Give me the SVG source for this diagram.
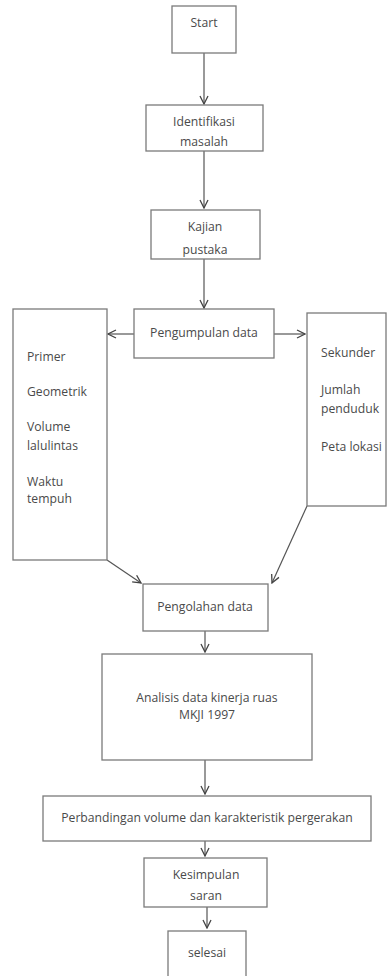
<svg xmlns="http://www.w3.org/2000/svg" width="389" height="976" viewBox="0 0 389 976">
<style>
.b{fill:#fff;stroke:#7a7a7a;stroke-width:1.3}
.t{font-family:"Open Sans","Liberation Sans",sans-serif;font-size:12.2px;fill:#4a4a4a}
.m{text-anchor:middle}
.c{stroke:#555;stroke-width:1.2;fill:none}
</style>
<defs>
<marker id="a" viewBox="0 0 10 10" refX="9" refY="5" markerWidth="10" markerHeight="10" markerUnits="userSpaceOnUse" orient="auto">
<path d="M1,1 L9,5 L1,9" fill="none" stroke="#444" stroke-width="1.3"/>
</marker>
</defs>
<rect width="389" height="976" fill="#fff"/>
<g id="connectors">
<line class="c" x1="204" y1="53" x2="204" y2="104" marker-end="url(#a)"/>
<line class="c" x1="204" y1="151" x2="204" y2="208" marker-end="url(#a)"/>
<line class="c" x1="204" y1="259" x2="204" y2="308" marker-end="url(#a)"/>
<line class="c" x1="134" y1="334" x2="108" y2="334" marker-end="url(#a)"/>
<line class="c" x1="274" y1="334" x2="305" y2="334" marker-end="url(#a)"/>
<line class="c" x1="107" y1="560" x2="141" y2="583" marker-end="url(#a)"/>
<line class="c" x1="307" y1="506" x2="272" y2="583" marker-end="url(#a)"/>
<line class="c" x1="205" y1="631" x2="205" y2="652" marker-end="url(#a)"/>
<line class="c" x1="205" y1="760" x2="205" y2="794" marker-end="url(#a)"/>
<line class="c" x1="205" y1="841" x2="205" y2="856" marker-end="url(#a)"/>
<line class="c" x1="207" y1="907" x2="207" y2="928" marker-end="url(#a)"/>
</g>
<g id="start"><rect class="b" x="172" y="6" width="64" height="47"/><text class="t m" x="204" y="27">Start</text></g>
<g id="identifikasi"><rect class="b" x="146" y="105" width="117" height="46"/><text class="t m" x="204" y="126">Identifikasi</text><text class="t m" x="204" y="146">masalah</text></g>
<g id="kajian"><rect class="b" x="151" y="210" width="109" height="49"/><text class="t m" x="205" y="231">Kajian</text><text class="t m" x="205" y="254">pustaka</text></g>
<g id="pengumpulan"><rect class="b" x="134" y="309" width="140" height="49"/><text class="t m" x="204" y="337">Pengumpulan data</text></g>
<g id="primer"><rect class="b" x="13" y="309" width="94" height="251"/>
<text class="t" x="27" y="361">Primer</text>
<text class="t" x="27" y="396">Geometrik</text>
<text class="t" x="27" y="431">Volume</text>
<text class="t" x="27" y="450">lalulintas</text>
<text class="t" x="27" y="486">Waktu</text>
<text class="t" x="27" y="503">tempuh</text></g>
<g id="sekunder"><rect class="b" x="307" y="313" width="79" height="193"/>
<text class="t" x="321" y="357">Sekunder</text>
<text class="t" x="321" y="394">Jumlah</text>
<text class="t" x="321" y="413">penduduk</text>
<text class="t" x="321" y="451">Peta lokasi</text></g>
<g id="pengolahan"><rect class="b" x="143" y="584" width="125" height="47"/><text class="t m" x="205" y="611">Pengolahan data</text></g>
<g id="analisis"><rect class="b" x="102" y="654" width="210" height="106"/><text class="t m" x="207" y="702">Analisis data kinerja ruas</text><text class="t m" x="207" y="719">MKJI 1997</text></g>
<g id="perbandingan"><rect class="b" x="43" y="796" width="328" height="45"/><text class="t m" x="207" y="822">Perbandingan volume dan karakteristik pergerakan</text></g>
<g id="kesimpulan"><rect class="b" x="144" y="858" width="123" height="49"/><text class="t m" x="206" y="879">Kesimpulan</text><text class="t m" x="206" y="900">saran</text></g>
<g id="selesai"><rect class="b" x="168" y="931" width="78" height="50"/><text class="t m" x="207" y="957">selesai</text></g>
</svg>
